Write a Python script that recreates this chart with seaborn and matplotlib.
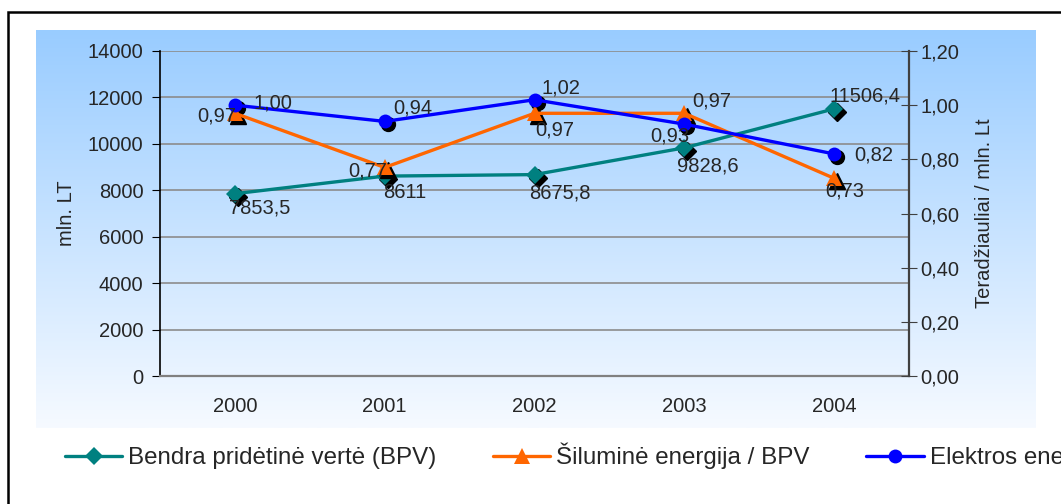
import numpy as np
import pandas as pd
import matplotlib
matplotlib.use("Agg")
import matplotlib.pyplot as plt
import matplotlib.transforms as mtransforms
from matplotlib.patches import Rectangle
from matplotlib.lines import Line2D
from matplotlib.colors import LinearSegmentedColormap
import seaborn as sns

# duomenys
years = ["2000", "2001", "2002", "2003", "2004"]
bpv = [7853.5, 8611, 8675.8, 9828.6, 11506.4]
siluma = [0.97, 0.77, 0.97, 0.97, 0.73]
elektra = [1.00, 0.94, 1.02, 0.93, 0.82]

bpv_labels = ["7853,5", "8611", "8675,8", "9828,6", "11506,4"]
siluma_labels = ["0,97", "0,77", "0,97", "0,97", "0,73"]
elektra_labels = ["1,00", "0,94", "1,02", "0,93", "0,82"]

legend_names = ["Bendra pridėtinė vertė (BPV)", "Šiluminė energija / BPV", "Elektros energija / BPV"]

sns.set_style("white")
plt.rcParams["font.family"] = ["Liberation Sans", "DejaVu Sans"]
FS = 14.5
LFS = 17.4

W, H = 1061, 504
fig = plt.figure(figsize=(W / 100, H / 100), dpi=100)

# fonas su gradientu
bg = fig.add_axes([36 / W, 1 - 428 / H, (1036 - 36) / W, (428 - 30) / H])
cmap = LinearSegmentedColormap.from_list("g", ["#99CCFF", "#F6FAFF"])
grad = np.linspace(0, 1, 256).reshape(-1, 1)
bg.imshow(grad, aspect="auto", cmap=cmap, extent=[0, 1, 0, 1], origin="upper")
bg.set_axis_off()

# remelis
fig.patches.append(Rectangle((8 / W, -0.2), 1.2, 1 - 12 / H + 0.2, transform=fig.transFigure,
                             fill=False, edgecolor="black", linewidth=1.8, zorder=10))

ax = fig.add_axes([160 / W, 1 - 376 / H, (909 - 160) / W, (376 - 51) / H])
ax.patch.set_alpha(0)
ax2 = ax.twinx()
ax2.patch.set_alpha(0)

df = pd.DataFrame({"x": np.arange(len(years)), "bpv": bpv, "siluma": siluma, "elektra": elektra})

# juodi seseliai po zymekliais
sh = mtransforms.offset_copy(ax.transData, fig=fig, x=3, y=-3, units="dots")
sh2 = mtransforms.offset_copy(ax2.transData, fig=fig, x=3, y=-3, units="dots")

ax.plot(df["x"], df["bpv"], linestyle="none", marker="D", markersize=9, color="black", transform=sh, zorder=2)
sns.lineplot(data=df, x="x", y="bpv", ax=ax, color="#008080", marker="D", markersize=9,
             markeredgewidth=0, linewidth=2.4, zorder=3)

ax2.plot(df["x"], df["siluma"], linestyle="none", marker="^", markersize=11, color="black", transform=sh2, zorder=2)
sns.lineplot(data=df, x="x", y="siluma", ax=ax2, color="#FF6600", marker="^", markersize=11,
             markeredgewidth=0, linewidth=2.4, zorder=3)
ax2.plot(df["x"], df["elektra"], linestyle="none", marker="o", markersize=10, color="black", transform=sh2, zorder=2)
sns.lineplot(data=df, x="x", y="elektra", ax=ax2, color="#0000FF", marker="o", markersize=10,
             markeredgewidth=0, linewidth=2.4, zorder=4)

# reiksmiu etiketes (poslinkiai pikseliais)
bpv_off = [(25, -14), (20, -16), (25, -18), (24, -18), (31, 13)]
sil_off = [(-18, -3), (-17, -4), (20, -17), (27, 12), (11, -13)]
el_off = [(38, 2), (28, 13), (26, 12), (-14, -12), (40, -1)]
for i in range(len(years)):
    ax.annotate(bpv_labels[i], (i, bpv[i]), xytext=bpv_off[i], textcoords="offset pixels",
                ha="center", va="center", fontsize=FS, zorder=6)
    ax2.annotate(siluma_labels[i], (i, siluma[i]), xytext=sil_off[i], textcoords="offset pixels",
                 ha="center", va="center", fontsize=FS, zorder=6)
    ax2.annotate(elektra_labels[i], (i, elektra[i]), xytext=el_off[i], textcoords="offset pixels",
                 ha="center", va="center", fontsize=FS, zorder=6)

ax.set_xlim(-0.5, len(years) - 0.5)
ax.set_ylim(0, 14000)
ax2.set_ylim(0, 1.2)

ax.set_yticks(np.arange(0, 14001, 2000))
ax.set_yticklabels([str(v) for v in range(0, 14001, 2000)], fontsize=FS)
ax.yaxis.grid(True, color="#8c8c8c", linewidth=1.2)
ax.set_axisbelow(True)
ax.set_xticks(np.arange(len(years)))
ax.set_xticklabels(years, fontsize=FS)
ax.set_xticks(np.arange(-0.5, len(years)), minor=True)
ax.tick_params(axis="x", which="major", length=0, pad=15)
ax.tick_params(axis="x", which="minor", length=6, color="#808080", direction="out")
ax.tick_params(axis="y", length=6, direction="out", pad=6, color="black", left=True)

ax2.set_yticks(np.arange(0, 1.21, 0.2))
ax2.set_yticklabels([f"{v:.2f}".replace(".", ",") for v in np.arange(0, 1.21, 0.2)], fontsize=FS)
ax2.tick_params(axis="y", length=12, direction="inout", pad=2, color="#404040", right=True)

ax.set_xlabel("")
ax.set_ylabel("mln. LT", fontsize=FS)
ax2.set_ylabel("Teradžiauliai / mln. Lt", fontsize=FS)
ax.yaxis.set_label_coords(-0.112, 0.5)
ax2.yaxis.set_label_coords(1.088, 0.5)

for a in (ax, ax2):
    for s in a.spines.values():
        s.set_visible(False)
ax.spines["left"].set_visible(True)
ax.spines["left"].set_color("black")
ax.spines["left"].set_linewidth(1.2)
ax.spines["bottom"].set_visible(True)
ax.spines["bottom"].set_color("#808080")
ax.spines["bottom"].set_linewidth(1.6)
ax2.spines["right"].set_visible(True)
ax2.spines["right"].set_color("#404040")
ax2.spines["right"].set_linewidth(1.6)

# legenda (kaip originale, paskutinis irasas nukerpamas krasto)
handles = [
    Line2D([], [], color="#008080", marker="D", markersize=9, markeredgewidth=0, linewidth=2.4),
    Line2D([], [], color="#FF6600", marker="^", markersize=11, markeredgewidth=0, linewidth=2.4),
    Line2D([], [], color="#0000FF", marker="o", markersize=10, markeredgewidth=0, linewidth=2.4),
]
fig.legend(handles, legend_names, loc="center left", bbox_to_anchor=(65 / W, 1 - 456 / H),
           ncol=3, frameon=False, fontsize=LFS, handlelength=2.36, handletextpad=0.25,
           columnspacing=2.35, borderpad=0, borderaxespad=0)

fig.savefig("out.png", dpi=100)
